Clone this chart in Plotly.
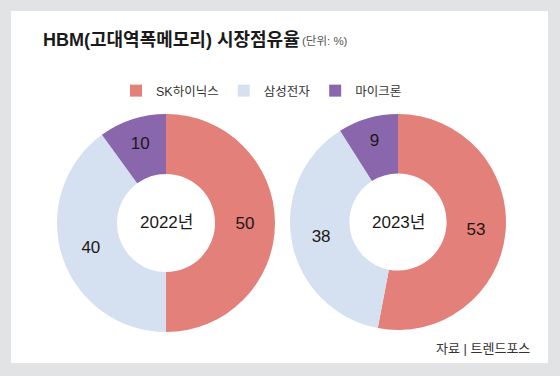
import plotly.graph_objects as go

companies = ["SK하이닉스", "삼성전자", "마이크론"]
share_2022 = [50, 40, 10]
share_2023 = [53, 38, 9]
years = ["2022년", "2023년"]
colors = ["#e3807a", "#d5e1f1", "#8a66ad"]

W, H = 560, 376
FONT = "Liberation Sans, Noto Sans CJK KR, sans-serif"

def px(x):
    return x / W

def py(y):
    return (H - y) / H

def dom(cx, cy, r):
    return dict(x=[px(cx - r), px(cx + r)], y=[py(cy + r), py(cy - r)])

fig = go.Figure()
pies = [(share_2022, 166, 223, 109, True), (share_2023, 398, 222, 108, False)]
for vals, cx, cy, r, leg in pies:
    fig.add_trace(go.Pie(
        labels=companies, values=vals, sort=False, direction="clockwise",
        rotation=0, hole=0.45, domain=dom(cx, cy, r),
        marker=dict(colors=colors, line=dict(width=0)),
        textinfo="value", textposition="inside",
        insidetextorientation="horizontal",
        insidetextfont=dict(family=FONT, size=17, color="#1e1616"),
        hoverinfo="label+value", showlegend=leg,
    ))

annotations = [
    dict(text="HBM(고대역폭메모리) 시장점유율", x=px(41), y=py(40), xanchor="left", yanchor="middle",
         font=dict(family=FONT, size=18, color="#1a1a1a", weight="bold"), showarrow=False),
    dict(text="(단위: %)", x=px(300), y=py(41), xanchor="left", yanchor="middle",
         font=dict(family=FONT, size=11.5, color="#555555"), showarrow=False),
    dict(text=years[0], x=px(166), y=py(222), xanchor="center", yanchor="middle",
         font=dict(family=FONT, size=17, color="#1a1a1a"), showarrow=False),
    dict(text=years[1], x=px(398), y=py(222), xanchor="center", yanchor="middle",
         font=dict(family=FONT, size=17, color="#1a1a1a"), showarrow=False),
    dict(text="자료 | 트렌드포스", x=px(532), y=py(348), xanchor="right", yanchor="middle",
         font=dict(family=FONT, size=13, color="#333333"), showarrow=False),
]
for a in annotations:
    a.update(xref="paper", yref="paper")

fig.update_layout(
    width=W, height=H, margin=dict(l=0, r=0, t=0, b=0),
    paper_bgcolor="#e2e3e5", plot_bgcolor="#ffffff",
    shapes=[dict(type="rect", xref="paper", yref="paper", x0=px(11), x1=px(548),
                 y0=py(363), y1=py(11), fillcolor="#ffffff", line=dict(width=0), layer="below")],
    annotations=annotations,
    legend=dict(orientation="h", x=px(116), y=py(91), xanchor="left", yanchor="middle",
                font=dict(family=FONT, size=12.5, color="#333333"), bgcolor="rgba(0,0,0,0)",
                traceorder="normal"),
)
fig.write_html("out.html", config={"displayModeBar": False},
               post_script="document.body.style.margin='0';")
